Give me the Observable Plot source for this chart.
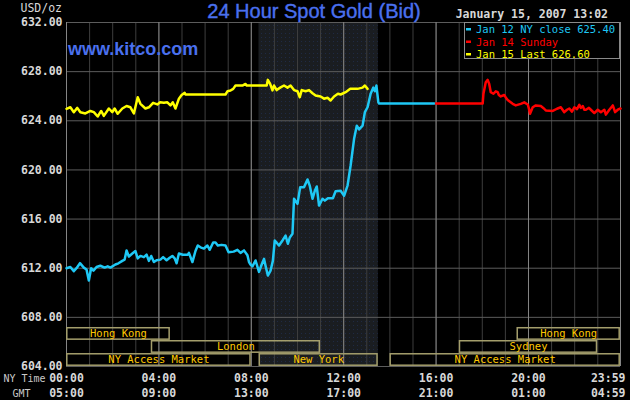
<!DOCTYPE html>
<html>
<head>
<meta charset="utf-8">
<script src="https://cdn.jsdelivr.net/npm/d3@7"></script>
<script src="https://cdn.jsdelivr.net/npm/@observablehq/plot@0.6"></script>
<style>
  body { margin: 0; background: #000; }
  #chart { width: 630px; height: 400px; }
</style>
</head>
<body>
<div id="chart"></div>
<script>
// NY time, minutes after midnight
var jan12Time = [0,10,19,26,35,45,52,58,64,70,78,88,99,107,114,127,135,145,151,156,162,171,179,185,192,201,208,214,220,227,234,244,251,260,268,275,281,286,292,302,315,318,327,335,341,348,357,366,372,381,387,393,403,413,421,434,444,452,461,470,474,478,483,491,500,507,513,517,523,530,536,541,552,562,569,575,580,587,591,600,607,617,626,632,639,645,650,656,665,671,679,692,699,712,721,730,738,747,754,760,769,775,782,790,797,801,805,810,812,955]
var jan12Price = [612.0,612.1,611.76,612.0,612.41,612.05,611.9,611.0,612.0,611.8,612.1,612.2,612.05,612.15,612.05,612.3,612.4,612.6,612.7,613.44,612.95,613.2,613.4,612.8,613.0,612.9,613.1,612.6,613.0,612.5,612.65,612.7,612.9,612.65,612.85,613.0,612.8,612.4,613.2,613.1,613.1,613.25,612.5,613.4,613.85,613.7,613.6,613.85,613.5,614.1,614.1,613.85,613.9,613.85,613.3,613.35,613.5,613.25,613.45,613.05,612.5,612.3,612.15,612.63,611.7,612.3,612.76,612.2,611.4,611.8,612.6,614.26,613.85,614.3,614.66,613.99,614.5,614.8,617.65,617.24,618.6,618.6,619.22,618.7,617.65,618.3,618.65,617.1,617.65,617.5,617.7,617.7,618.27,618.3,617.9,618.73,620.36,622.53,623.6,623.3,623.6,624.7,625.1,626.2,626.7,626.4,626.87,625.5,625.4,625.4]

var jan14Time = [960,1081,1083,1089,1094,1098,1102,1109,1115,1120,1123,1128,1137,1141,1146,1152,1159,1167,1180,1189,1198,1201,1204,1211,1219,1232,1240,1245,1263,1274,1284,1293,1300,1306,1313,1319,1326,1332,1336,1341,1345,1349,1357,1362,1371,1380,1388,1397,1401,1410,1419,1425,1432,1439]
var jan14Price = [625.4,625.4,626.2,627.14,627.33,627.0,626.33,626.2,626.4,626.33,626.1,625.98,626.1,625.9,625.7,625.55,625.38,625.25,625.38,625.5,625.33,625.0,624.57,625.1,625.25,625.2,625.0,624.84,624.8,624.98,625.1,624.7,624.9,625.0,624.75,625.1,624.95,625.3,625.05,625.2,624.9,624.9,625.05,624.9,624.63,624.9,624.7,624.9,624.5,624.9,625.25,624.7,624.9,625.0]

var jan15Time = [0,10,19,28,36,49,62,71,81,90,97,110,119,125,133,145,156,166,175,185,192,205,214,225,236,243,253,262,270,276,283,292,299,307,309,413,418,426,433,439,457,465,468,520,523,529,535,539,546,555,565,574,582,591,600,606,611,621,630,639,647,660,669,678,686,695,705,712,725,737,756,769,775,782]
var jan15Price = [624.97,625.1,624.7,625.05,624.7,624.6,624.8,624.7,624.35,624.8,624.4,625.0,624.7,625.0,624.57,625.0,625.2,625.1,624.6,625.92,625.38,625.0,625.1,625.46,625.33,625.5,625.46,625.5,625.25,625.5,625.0,625.8,626.1,626.27,626.14,626.14,626.4,626.46,626.6,626.87,626.87,627.0,626.87,626.87,627.33,627.0,626.47,626.87,626.5,626.7,626.87,626.7,626.87,626.5,626.4,625.92,626.5,626.4,626.5,626.24,626.06,625.98,625.8,625.87,625.65,625.98,626.2,626.14,626.33,626.6,626.6,626.7,626.87,626.6]

var seriesNames = ["Jan 12 NY close 625.40", "Jan 14 Sunday", "Jan 15 Last 626.60"]
var seriesColors = ["#1ec8f5", "#ff0000", "#ffff00"]

var sessionNames = ["Hong Kong", "London", "NY Access Market", "New York", "NY Access Market", "Sydney", "Hong Kong"]
var sessionStart = [0, 220, 0, 500, 840, 1020, 1170]
var sessionEnd = [270, 660, 480, 810, 1439, 1380, 1439]
var sessionRow = [2, 1, 0, 0, 0, 1, 2]

var nyShade = [500, 810]
var priceTicks = [604, 608, 612, 616, 620, 624, 628, 632]
var timeTicks = [0, 240, 480, 720, 960, 1200, 1439]
var nyLabels = ["00:00", "04:00", "08:00", "12:00", "16:00", "20:00", "23:59"]
var gmtLabels = ["05:00", "09:00", "13:00", "17:00", "21:00", "01:00", "04:59"]

function pts(t, p) { return t.map((d, i) => ({t: d, p: p[i]})) }

var sessions = sessionNames.map((n, i) => ({name: n, start: sessionStart[i], end: sessionEnd[i], row: sessionRow[i]}))
var rowH = 1.06
var hours = d3.range(0, 1440, 60)
var mono = "DejaVu Sans Mono"

var chart = Plot.plot({
  width: 630,
  height: 400,
  marginTop: 22,
  marginRight: 10,
  marginBottom: 34,
  marginLeft: 66,
  style: {background: "#000", color: "#d8d8d8", fontFamily: mono},
  x: {domain: [0, 1439], axis: null},
  y: {domain: [604, 632], axis: null},
  marks: [
    Plot.rect([nyShade], {x1: d => d[0], x2: d => d[1], y1: 604, y2: 632, fill: "url(#nydots)"}),
    Plot.ruleX(hours, {stroke: "#3e3e3e"}),
    Plot.ruleY(priceTicks, {stroke: "#5c5c5c"}),
    Plot.ruleX(timeTicks, {stroke: "#858585"}),
    Plot.rect(sessions, {
      x1: "start", x2: "end",
      y1: d => 604 + d.row * rowH, y2: d => 604 + (d.row + 1) * rowH,
      fill: "none", stroke: "#a49e6c", strokeWidth: 1.5, inset: 0.8
    }),
    Plot.text(sessions, {
      x: d => (d.start + d.end) / 2, y: d => 604 + (d.row + 0.5) * rowH,
      text: "name", fill: "#ffc800", fontSize: 10.5, fontFamily: mono
    }),
    Plot.line(pts(jan12Time, jan12Price), {x: "t", y: "p", stroke: seriesColors[0], strokeWidth: 2.5}),
    Plot.line(pts(jan14Time, jan14Price), {x: "t", y: "p", stroke: seriesColors[1], strokeWidth: 2.5}),
    Plot.line(pts(jan15Time, jan15Price), {x: "t", y: "p", stroke: seriesColors[2], strokeWidth: 2.5}),
    Plot.text(priceTicks, {
      y: d => d, frameAnchor: "left", dx: -4, textAnchor: "end",
      text: d => d.toFixed(2), fill: "#d8d8d8", fontSize: 11.5, fontWeight: "bold", fontFamily: mono
    }),
    Plot.text(timeTicks.slice(0, -1), {
      x: d => d, frameAnchor: "bottom", dy: 15, text: (d, i) => nyLabels[i],
      fill: "#d8d8d8", fontSize: 11.5, fontWeight: "bold", fontFamily: mono
    }),
    Plot.text(timeTicks.slice(0, -1), {
      x: d => d, frameAnchor: "bottom", dy: 30, text: (d, i) => gmtLabels[i],
      fill: "#d8d8d8", fontSize: 11.5, fontWeight: "bold", fontFamily: mono
    }),
    Plot.text(timeTicks.slice(-1), {
      x: d => d, frameAnchor: "bottom", dy: 15, dx: 5, textAnchor: "end", text: d => nyLabels[nyLabels.length - 1],
      fill: "#d8d8d8", fontSize: 11.5, fontWeight: "bold", fontFamily: mono
    }),
    Plot.text(timeTicks.slice(-1), {
      x: d => d, frameAnchor: "bottom", dy: 30, dx: 5, textAnchor: "end", text: d => gmtLabels[gmtLabels.length - 1],
      fill: "#d8d8d8", fontSize: 11.5, fontWeight: "bold", fontFamily: mono
    }),
    Plot.text(["NY Time"], {frameAnchor: "bottom-left", textAnchor: "middle", dx: -42, dy: 15, text: d => d, fill: "#c8c8c8", fontSize: 10, fontFamily: mono}),
    Plot.text(["GMT"], {frameAnchor: "bottom-left", textAnchor: "middle", dx: -45, dy: 30, text: d => d, fill: "#c8c8c8", fontSize: 10, fontFamily: mono})
  ]
})

var svg = d3.select(chart)
// dotted texture for the NY session shading
var pat = svg.insert("defs", ":first-child").append("pattern").attr("id", "nydots")
  .attr("patternUnits", "userSpaceOnUse").attr("width", 4).attr("height", 4)
pat.append("rect").attr("width", 4).attr("height", 4).attr("fill", "#1a1d21")
pat.append("rect").attr("x", 1).attr("y", 1).attr("width", 1).attr("height", 1).attr("fill", "#1f2a44")

svg.append("text").attr("x", 62).attr("y", 12).attr("text-anchor", "end")
  .attr("fill", "#d8d8d8").attr("font-family", mono).attr("font-size", 11.5).text("USD/oz")
svg.append("text").attr("x", 314).attr("y", 18).attr("text-anchor", "middle")
  .attr("fill", "#4a70ee").attr("font-family", "Liberation Sans").attr("font-size", 20)
  .attr("stroke", "#4a70ee").attr("stroke-width", 0.4).text("24 Hour Spot Gold (Bid)")
svg.append("text").attr("x", 68).attr("y", 55).attr("text-anchor", "start")
  .attr("fill", "#4a70ee").attr("font-family", "Liberation Sans").attr("font-weight", "bold").attr("font-size", 18).text("www.kitco.com")
svg.append("text").attr("x", 608).attr("y", 18).attr("text-anchor", "end")
  .attr("fill", "#d8d8d8").attr("font-family", mono).attr("font-weight", "bold").attr("font-size", 11.5).text("January 15, 2007 13:02")

var leg = svg.append("g").attr("text-anchor", "start")
leg.append("rect").attr("x", 464.5).attr("y", 22.5).attr("width", 155).attr("height", 36)
  .attr("fill", "#000").attr("stroke", "#8a8a8a")
seriesNames.forEach((name, i) => {
  leg.append("rect").attr("x", 466).attr("y", 28 + i * 12.5).attr("width", 5).attr("height", 2.5).attr("fill", seriesColors[i])
  leg.append("text").attr("x", 476).attr("y", 33 + i * 12.5).attr("fill", seriesColors[i])
    .attr("font-family", mono).attr("font-size", 10.5).text(name)
})

d3.select("#chart").append(() => chart)
</script>
</body>
</html>
